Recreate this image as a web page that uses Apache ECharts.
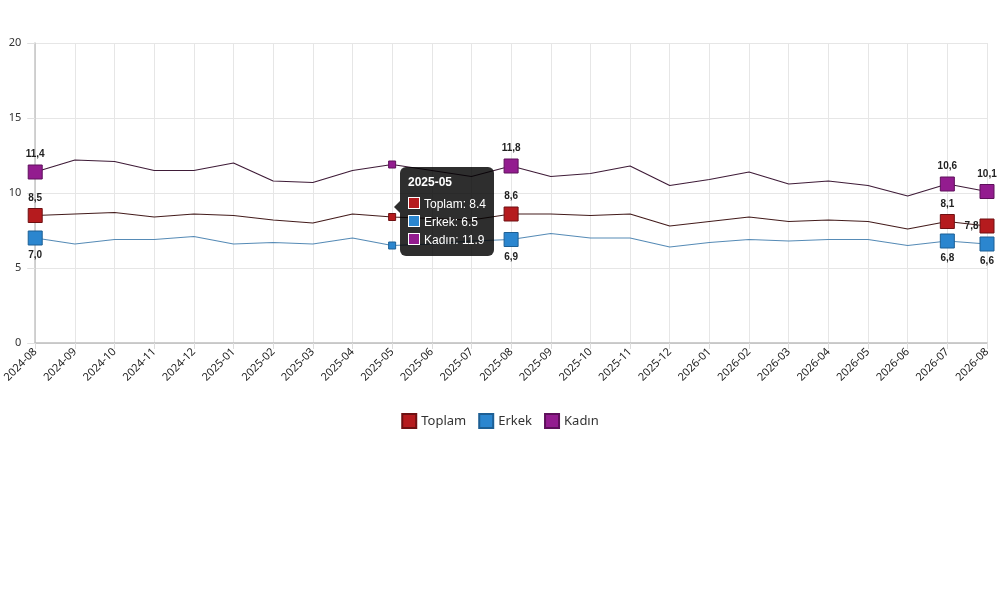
<!DOCTYPE html>
<html>
<head>
<meta charset="utf-8">
<title>Toplam / Erkek / Kadın</title>
<script src="https://cdn.jsdelivr.net/npm/echarts@6/dist/echarts.min.js"></script>
<style>
  html, body { margin: 0; padding: 0; background: #fff; }
  #chart { width: 1000px; height: 593px; }
</style>
</head>
<body>
<div id="chart"></div>
<script>
// veriler
var categories = ['2024-08', '2024-09', '2024-10', '2024-11', '2024-12', '2025-01', '2025-02', '2025-03',
  '2025-04', '2025-05', '2025-06', '2025-07', '2025-08', '2025-09', '2025-10', '2025-11', '2025-12',
  '2026-01', '2026-02', '2026-03', '2026-04', '2026-05', '2026-06', '2026-07', '2026-08']
var toplam = [8.5, 8.6, 8.7, 8.4, 8.6, 8.5, 8.2, 8.0, 8.6, 8.4, 8.3, 8.2, 8.6, 8.6, 8.5, 8.6, 7.8,
  8.1, 8.4, 8.1, 8.2, 8.1, 7.6, 8.1, 7.8]
var erkek = [7.0, 6.6, 6.9, 6.9, 7.1, 6.6, 6.7, 6.6, 7.0, 6.5, 6.6, 6.8, 6.9, 7.3, 7.0, 7.0, 6.4,
  6.7, 6.9, 6.8, 6.9, 6.9, 6.5, 6.8, 6.6]
var kadin = [11.4, 12.2, 12.1, 11.5, 11.5, 12.0, 10.8, 10.7, 11.5, 11.9, 11.5, 11.1, 11.8, 11.1, 11.3,
  11.8, 10.5, 10.9, 11.4, 10.6, 10.8, 10.5, 9.8, 10.6, 10.1]
var yTicks = [0, 5, 10, 15, 20]
var labelIdx = [0, 12, 23, 24]
var hoverIdx = 9

var FONT = '"Noto Sans", sans-serif'

var fmt = function (v) {
  return Number(v).toFixed(1).replace('.', ',')
}

// büyük kare işaretler + değer etiketleri
var makeMarks = function (vals, pos, lastPos) {
  return labelIdx.map(function (i, k) {
    var isLast = lastPos && k === labelIdx.length - 1
    return {
      coord: [categories[i], vals[i]],
      value: vals[i],
      label: isLast ? { position: lastPos, distance: 1 } : { position: pos }
    }
  })
}

var makeSeries = function (name, vals, fill, border, lineColor, pos, lastPos) {
  return {
    name: name,
    type: 'line',
    data: vals,
    showSymbol: false,
    symbol: 'rect',
    symbolSize: 7,
    lineStyle: { color: lineColor, width: 1.2 },
    itemStyle: { color: fill, borderColor: border, borderWidth: 1 },
    emphasis: { scale: false, lineStyle: { width: 1.2 } },
    z: 3,
    markPoint: {
      symbol: 'rect',
      symbolSize: 14,
      silent: true,
      itemStyle: { color: fill, borderColor: border, borderWidth: 1 },
      label: {
        show: true,
        distance: 5,
        color: '#222',
        fontSize: 10,
        fontWeight: 'bold',
        fontFamily: 'Arial, sans-serif',
        formatter: function (p) { return fmt(p.value) }
      },
      data: makeMarks(vals, pos, lastPos)
    }
  }
}

var myChart = echarts.init(document.getElementById('chart'))

var option = {
  backgroundColor: '#fff',
  animation: false,
  grid: { left: 35, right: 13, top: 43, bottom: 250 },
  legend: {
    top: 408,
    left: 'center',
    icon: 'rect',
    itemWidth: 14,
    itemHeight: 14,
    itemGap: 12,
    textStyle: { color: '#333', fontSize: 13, fontFamily: FONT },
    data: ['Toplam', 'Erkek', 'Kadın']
  },
  tooltip: {
    trigger: 'axis',
    triggerOn: 'none',
    alwaysShowContent: true,
    axisPointer: { type: 'none' },
    backgroundColor: 'rgba(0,0,0,0.82)',
    borderWidth: 0,
    padding: [7, 8, 7, 8],
    extraCssText: 'border-radius:6px;box-shadow:none;',
    textStyle: { color: '#fff', fontSize: 12, fontFamily: 'Arial, sans-serif' },
    position: function (point, params) {
      var i = params[0].dataIndex
      var p = myChart.convertToPixel({ seriesIndex: 0 }, [i, toplam[i]])
      return [p[0] + 8, p[1] - 50]
    },
    formatter: function (params) {
      var html = '<span style="position:absolute;left:-6px;top:34px;width:0;height:0;' +
        'border-top:6px solid transparent;border-bottom:6px solid transparent;' +
        'border-right:6px solid rgba(0,0,0,0.82)"></span>'
      html += '<div style="font-weight:bold;margin-bottom:5px;line-height:16px">' + params[0].axisValue + '</div>'
      params.forEach(function (p) {
        html += '<div style="line-height:18px;white-space:nowrap">' +
          '<span style="display:inline-block;width:10px;height:10px;margin-right:4px;vertical-align:-1px;' +
          'border:1px solid #fff;background:' + p.color + '"></span>' +
          p.seriesName + ': ' + p.value + '</div>'
      })
      return html
    }
  },
  xAxis: {
    type: 'category',
    data: categories,
    boundaryGap: false,
    axisLine: { lineStyle: { color: '#bdbdbd', width: 1.5 } },
    axisTick: { show: true, length: 6, lineStyle: { color: '#dcdcdc' } },
    splitLine: { show: true, lineStyle: { color: '#e6e6e6' } },
    axisLabel: {
      rotate: 45,
      interval: 0,
      margin: 7,
      color: '#222',
      fontSize: 11,
      fontFamily: FONT
    }
  },
  yAxis: {
    type: 'value',
    min: yTicks[0],
    max: yTicks[yTicks.length - 1],
    interval: 5,
    axisLine: { show: true, lineStyle: { color: '#c4c4c4', width: 1.5 } },
    axisTick: { show: true, length: 8, lineStyle: { color: '#e0e0e0' } },
    splitLine: { show: true, lineStyle: { color: '#e6e6e6' } },
    axisLabel: { margin: 14, color: '#333', fontSize: 11, fontFamily: FONT }
  },
  series: [
    makeSeries('Toplam', toplam, '#b51b1e', '#6e1012', '#3e1a1a', 'top', 'left'),
    makeSeries('Erkek', erkek, '#2b86cf', '#1d5f94', '#4f7fa6', 'bottom'),
    makeSeries('Kadın', kadin, '#931c8f', '#5e105b', '#3a1a33', 'top')
  ]
}

myChart.setOption(option)
myChart.dispatchAction({ type: 'showTip', seriesIndex: 0, dataIndex: hoverIdx })
</script>
</body>
</html>
